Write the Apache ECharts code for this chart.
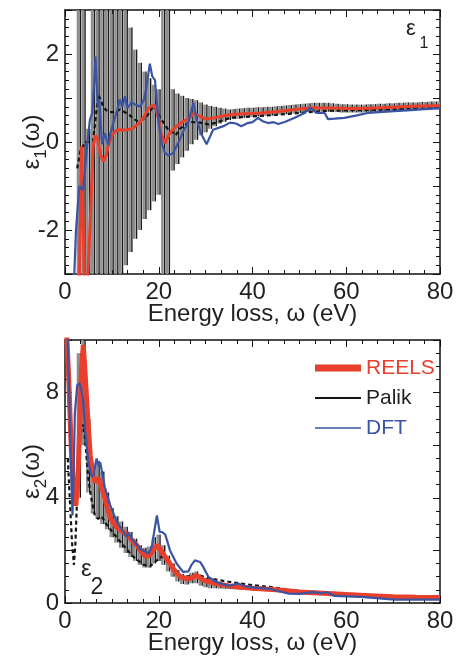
<!DOCTYPE html>
<html>
<head>
<meta charset="utf-8">
<script src="https://cdn.jsdelivr.net/npm/echarts@6/dist/echarts.min.js"></script>
<style>
  html, body { margin: 0; padding: 0; background: #fff; }
  #main { width: 458px; height: 656px; }
</style>
</head>
<body>
<div id="main"></div>
<script>
// energies of the REELS error bars (eV)
const barEnergy = [3, 4, 5, 6, 7, 8, 9, 10, 11, 12, 13, 14, 15, 16, 17, 18, 19, 20, 21, 22, 23, 24, 25, 26, 27, 28, 29, 30,
  31, 32, 33, 34, 35, 36, 37, 38, 39, 40, 41, 42, 43, 44, 45, 46, 47, 48, 49, 50, 51, 52, 53, 54, 55, 56, 57, 58, 59, 60,
  61, 62, 63, 64, 65, 66, 67, 68, 69, 70, 71, 72, 73, 74, 75, 76, 77, 78, 79, 80];

// eps1 error bar bounds
const eps1Low = [-3.5, -3.5, -3.5, -3.5, -3.5, -3.5, -3.5, -3.5, -3.5, -3.3, -2.8, -2.5, -2.2, -2.0, -1.75, -1.55, -1.35, -1.2,
  -3.5, -3.5, -0.65, -0.5, -0.35, -0.2, -0.05, 0.05, 0.15, 0.22, 0.3, 0.36, 0.42, 0.46, 0.5, 0.52, 0.53, 0.55, 0.56, 0.57,
  0.58, 0.58, 0.59, 0.6, 0.61, 0.62, 0.63, 0.64, 0.65, 0.66, 0.67, 0.68, 0.69, 0.69, 0.69, 0.69, 0.68, 0.68, 0.67, 0.67,
  0.67, 0.67, 0.67, 0.67, 0.68, 0.68, 0.69, 0.69, 0.7, 0.7, 0.71, 0.71, 0.72, 0.72, 0.73, 0.73, 0.74, 0.74, 0.75, 0.75];
const eps1High = [3.5, 3.5, 0.3, 3.5, 3.5, 3.5, 3.5, 3.5, 3.5, 3.5, 3.2, 2.6, 2.1, 1.8, 1.6, 1.45, 1.3, 1.2,
  3.5, 3.5, 1.2, 1.1, 1.05, 1.0, 0.98, 0.95, 0.9, 0.85, 0.82, 0.8, 0.78, 0.76, 0.74, 0.75, 0.76, 0.77, 0.78, 0.78,
  0.79, 0.79, 0.8, 0.8, 0.81, 0.82, 0.83, 0.84, 0.85, 0.86, 0.87, 0.88, 0.89, 0.89, 0.89, 0.89, 0.88, 0.87, 0.86, 0.86,
  0.85, 0.85, 0.85, 0.85, 0.86, 0.86, 0.87, 0.87, 0.88, 0.88, 0.89, 0.89, 0.9, 0.9, 0.9, 0.91, 0.91, 0.92, 0.92, 0.92];

// eps2 error bar bounds
const eps2Low = [4.0, 6.0, 4.2, 3.4, 3.2, 3.0, 2.8, 2.5, 2.3, 2.1, 1.9, 1.75, 1.6, 1.45, 1.35, 1.35, 1.5, 1.6, 1.45, 1.2,
  1.0, 0.82, 0.72, 0.7, 0.75, 0.75, 0.66, 0.6, 0.56, 0.56, 0.55, 0.54, 0.53, 0.52, 0.51, 0.5, 0.49, 0.48, 0.47, 0.46,
  0.45, 0.44, 0.42, 0.41, 0.4, 0.38, 0.36, 0.35, 0.34, 0.33, 0.32, 0.31, 0.3, 0.29, 0.28, 0.27, 0.26, 0.25, 0.24, 0.23,
  0.22, 0.22, 0.21, 0.2, 0.19, 0.18, 0.18, 0.17, 0.16, 0.16, 0.15, 0.15, 0.14, 0.14, 0.14, 0.14, 0.13, 0.13];
const eps2High = [9.5, 10.2, 7.0, 5.0, 5.4, 5.0, 4.2, 3.6, 3.3, 3.1, 2.9, 2.7, 2.45, 2.2, 2.1, 2.15, 2.5, 2.6, 2.2, 1.8,
  1.5, 1.25, 1.1, 1.05, 1.15, 1.2, 1.05, 0.95, 0.86, 0.84, 0.8, 0.76, 0.72, 0.68, 0.67, 0.66, 0.65, 0.64, 0.63, 0.62,
  0.6, 0.59, 0.58, 0.56, 0.55, 0.53, 0.51, 0.5, 0.49, 0.48, 0.47, 0.46, 0.45, 0.44, 0.43, 0.42, 0.41, 0.4, 0.39, 0.38,
  0.37, 0.36, 0.35, 0.34, 0.33, 0.32, 0.31, 0.3, 0.3, 0.29, 0.29, 0.28, 0.28, 0.28, 0.27, 0.27, 0.27, 0.27];

// curves, [energy, value]
const reelsEps1 = [[3.0, -3.5], [3.55, -0.1], [4.2, -3.5], [4.7, -3.5], [5.5, -1.5], [6.0, -0.1], [6.5, 0.15], [7.0, 0.05],
  [7.6, -0.3], [8.2, -0.44], [8.8, -0.3], [9.3, -0.05], [10.0, 0.15], [10.8, 0.25], [11.5, 0.28], [13, 0.27], [14.2, 0.3],
  [15, 0.36], [16, 0.44], [17, 0.6], [17.8, 0.76], [18.5, 0.82], [19.2, 0.83], [19.8, 0.6], [20.5, 0.2], [21.3, -0.03],
  [22.4, 0.21], [23.8, 0.36], [25, 0.45], [26.5, 0.55], [27.5, 0.65], [28.5, 0.6], [30, 0.52], [32, 0.55], [35, 0.62],
  [38, 0.64], [42, 0.66], [46, 0.7], [50, 0.75], [53, 0.78], [57, 0.77], [60, 0.76], [63, 0.76], [66, 0.77], [70, 0.79],
  [74, 0.81], [77, 0.82], [80, 0.83]];
const palikEps1 = [[2.6, -0.6], [3.3, -0.2], [4.3, 0.0], [5, 0.0], [6.0, 0.02], [6.5, 0.5], [7.1, 1.08], [7.6, 0.95],
  [8.2, 0.8], [8.8, 0.72], [9.6, 0.68], [10.3, 0.68], [11, 0.7], [11.7, 0.74], [12.4, 0.7], [13.2, 0.65], [13.9, 0.6],
  [14.7, 0.52], [15.6, 0.47], [16.4, 0.5], [17.4, 0.58], [18.3, 0.72], [18.8, 0.8], [19.5, 0.72], [20.2, 0.58], [21, 0.44],
  [22, 0.28], [23.1, 0.21], [23.6, 0.15], [24.5, 0.3], [25.5, 0.38], [26.5, 0.45], [27.5, 0.45], [28.8, 0.44], [30.6, 0.4],
  [32.3, 0.44], [35.2, 0.55], [40, 0.58], [45.5, 0.62], [50, 0.66], [56, 0.71], [60, 0.72], [65, 0.73], [70, 0.74],
  [75, 0.76], [80, 0.77]];
const dftEps1 = [[1.8, -3.5], [2.35, -2.0], [3.05, -1.0], [3.4, -1.0], [3.8, -1.1], [4.3, -0.6], [4.75, -0.05], [5.3, 0.5],
  [5.8, 0.66], [6.2, 1.3], [6.5, 1.94], [6.8, 1.2], [7.0, 0.81], [7.3, 0.97], [7.9, -0.05], [8.5, 0.2], [9.2, -0.07],
  [9.7, 0.2], [10.5, 0.5], [11.2, 0.75], [11.7, 0.97], [12.2, 0.8], [12.8, 1.04], [13.3, 0.77], [14.2, 0.9], [15, 0.85],
  [16, 0.8], [16.8, 0.95], [17.3, 1.2], [18.1, 1.78], [18.6, 1.5], [19.2, 1.4], [19.9, 0.51], [20.6, -0.02], [21.3, -0.25],
  [22.1, -0.3], [23.1, -0.25], [24.5, 0.06], [25.5, 0.3], [26.3, 0.44], [27.4, 0.89], [28.1, 0.5], [29, 0.2], [30.2, -0.05],
  [31.6, 0.28], [33.8, 0.36], [35.2, 0.44], [36.5, 0.42], [37.6, 0.36], [39, 0.43], [40, 0.45], [41.2, 0.55], [42.2, 0.47],
  [43.3, 0.43], [44.5, 0.45], [45.5, 0.41], [47, 0.46], [49, 0.55], [51.1, 0.66], [52.4, 0.78], [53.6, 0.66], [55.4, 0.66],
  [56.1, 0.52], [57.5, 0.53], [59.6, 0.55], [62, 0.6], [64.6, 0.66], [67, 0.68], [70.3, 0.7], [73, 0.72], [76, 0.74],
  [80, 0.77]];

const reelsEps2 = [[0.3, 10.5], [0.8, 8.5], [1.3, 6.0], [1.8, 4.4], [2.3, 3.7], [2.7, 4.5], [3.1, 6.5], [3.5, 8.8],
  [3.9, 9.8], [4.2, 9.0], [4.6, 7.8], [5.0, 6.6], [5.4, 5.6], [5.9, 4.95], [6.4, 4.6], [6.8, 4.68], [7.3, 4.74], [7.8, 4.4],
  [8.2, 4.2], [8.9, 3.7], [9.6, 3.27], [10.3, 3.05], [11, 2.89], [12, 2.75], [13.2, 2.6], [14.2, 2.4], [15.3, 2.2],
  [16.3, 1.95], [17.2, 1.78], [18, 1.8], [18.8, 2.0], [19.6, 2.2], [20.3, 2.05], [21, 1.85], [22.4, 1.5], [23.5, 1.2],
  [24.5, 1.02], [25.5, 0.94], [26.7, 0.93], [27.5, 1.0], [28.2, 1.04], [29.5, 0.87], [31.6, 0.77], [33.5, 0.7], [35, 0.65],
  [40, 0.56], [45, 0.5], [50, 0.42], [55, 0.37], [60, 0.32], [65, 0.28], [70, 0.24], [75, 0.22], [80, 0.21]];
const palikEps2 = [[0.6, 5.5], [1.0, 4.0], [1.5, 2.3], [1.9, 1.45], [2.2, 2.2], [2.5, 3.6], [2.85, 5.6], [3.3, 6.4],
  [3.9, 6.8], [4.3, 6.2], [4.7, 5.3], [5.0, 4.7], [5.4, 4.2], [5.7, 3.9], [6.4, 3.3], [7.1, 3.2], [7.8, 3.3], [8.8, 3.0],
  [10.3, 2.66], [12.4, 2.2], [14.5, 1.77], [16.7, 1.46], [18.1, 1.39], [19.6, 1.62], [20.7, 1.77], [22.4, 1.5], [23.5, 1.3],
  [24.5, 1.05], [25.5, 0.98], [27.4, 1.06], [28.8, 1.04], [30.9, 0.93], [35.2, 0.8], [40, 0.68], [45, 0.58], [50, 0.45],
  [55, 0.38], [60, 0.32], [65, 0.27], [70, 0.22], [75, 0.19], [80, 0.17]];
const dftEps2 = [[0.5, 10.5], [0.9, 8.0], [1.3, 5.0], [1.6, 3.33], [1.85, 5.0], [2.1, 7.2], [2.6, 8.28], [3.1, 8.35],
  [3.5, 8.1], [3.8, 7.8], [4.3, 6.55], [5.0, 5.3], [5.7, 4.8], [6.2, 4.9], [6.5, 5.3], [6.75, 5.49], [7.2, 5.2], [7.5, 5.35],
  [7.8, 5.3], [8.5, 4.4], [9.6, 3.74], [11, 3.1], [12.5, 2.7], [13.2, 2.5], [13.5, 2.7], [14.2, 2.45], [16, 2.07],
  [17.8, 1.88], [18.5, 2.13], [19.2, 2.89], [19.6, 3.33], [20.2, 2.7], [20.7, 2.7], [21.4, 2.6], [22.4, 2.0], [23.8, 1.5],
  [25.2, 1.18], [26.3, 1.2], [27.0, 1.45], [27.7, 1.62], [28.8, 1.56], [29.5, 1.37], [30.6, 0.99], [32.3, 0.8], [34.8, 0.65],
  [36.9, 0.74], [39, 0.61], [43.3, 0.55], [47.6, 0.36], [50, 0.35], [53.3, 0.42], [54.7, 0.36], [55.8, 0.42], [57.5, 0.27],
  [63.2, 0.23], [70.3, 0.13], [80, 0.13]];

const legendNames = ['REELS', 'Palik', 'DFT'];

const FONT = 'Liberation Sans, Arial, sans-serif';
const TEXT = '#231f20';
const RED = '#e8402c';
const BLUE = '#3b54a4';
const BLACK = '#141414';

const chart = echarts.init(document.getElementById('main'));

// grey + black stripe for one error bar, clipped to the grid
function errorBar(params, api) {
  const e = api.value(0);
  const top = api.coord([e, api.value(2)]);
  const bottom = api.coord([e, api.value(1)]);
  const step = api.size([1, 0])[0];
  const cs = params.coordSys;
  const area = { x: cs.x, y: cs.y, width: cs.width, height: cs.height };
  const h = bottom[1] - top[1];
  const grey = echarts.graphic.clipRectByRect({ x: top[0] - step * 0.5, y: top[1], width: step * 0.55, height: h }, area);
  const black = echarts.graphic.clipRectByRect({ x: top[0] + step * 0.12, y: top[1], width: step * 0.3, height: h }, area);
  const children = [];
  if (grey) children.push({ type: 'rect', shape: grey, style: { fill: '#8e8e8e' } });
  if (black) children.push({ type: 'rect', shape: black, style: { fill: '#1a1a1a' } });
  return { type: 'group', children: children };
}

function xAxes(gridIndex) {
  const base = {
    gridIndex: gridIndex, type: 'value', min: 0, max: 80, interval: 20,
    axisLine: { onZero: false, lineStyle: { color: '#111', width: 1.5 } },
    axisTick: { inside: true, length: 7, lineStyle: { color: '#111', width: 1 } },
    minorTick: { show: true, splitNumber: 6, length: 4, lineStyle: { color: '#111' } },
    splitLine: { show: false }
  };
  return [
    Object.assign({}, base, {
      position: 'bottom',
      name: 'Energy loss, ω (eV)', nameLocation: 'middle', nameGap: 28, nameMoveOverlap: false,
      nameTextStyle: { fontFamily: FONT, fontSize: 24, color: TEXT },
      axisLabel: { margin: 6, fontFamily: FONT, fontSize: 24, color: TEXT }
    }),
    Object.assign({}, base, { position: 'top', axisLabel: { show: false } })
  ];
}

function yAxes(gridIndex, min, max, interval, minorSplit, labelEvery, sub) {
  const base = {
    gridIndex: gridIndex, type: 'value', min: min, max: max, interval: interval,
    axisLine: { onZero: false, lineStyle: { color: '#111', width: 1.5 } },
    axisTick: { inside: true, length: 7, lineStyle: { color: '#111', width: 1 } },
    minorTick: { show: true, splitNumber: minorSplit, length: 4, lineStyle: { color: '#111' } },
    splitLine: { show: false }
  };
  return [
    Object.assign({}, base, {
      position: 'left',
      name: '{e|ε}{s|' + sub + '}{e|(ω)}', nameLocation: 'middle', nameGap: 21, nameMoveOverlap: false,
      nameTextStyle: {
        rich: {
          e: { fontFamily: FONT, fontSize: 24, lineHeight: 24, color: TEXT },
          s: { fontFamily: FONT, fontSize: 17, lineHeight: 24, color: TEXT, padding: [18, 0, 0, 0] }
        }
      },
      axisLabel: {
        margin: 6, fontFamily: FONT, fontSize: 24, color: TEXT,
        formatter: function (v) { return (Math.round(v) % labelEvery === 0) ? String(v) : ''; }
      }
    }),
    Object.assign({}, base, { position: 'right', axisLabel: { show: false } })
  ];
}

// legend icons: a bar of given thickness inside a 46x14 box
function lineIcon(thick) {
  const y0 = 7 - thick / 2, y1 = 7 + thick / 2;
  return 'path://M0,0L0.01,0M0,14L0.01,14M0,' + y0 + 'H46V' + y1 + 'H0Z';
}

const bars1 = barEnergy.map(function (e, i) { return [e, eps1Low[i], eps1High[i]]; });
const bars2 = barEnergy.map(function (e, i) { return [e, eps2Low[i], eps2High[i]]; });

chart.setOption({
  animation: false,
  backgroundColor: '#fff',
  grid: [
    { left: 65, top: 10, width: 375, height: 264, outerBoundsMode: 'none', containLabel: false },
    { left: 65, top: 340, width: 375, height: 263, outerBoundsMode: 'none', containLabel: false }
  ],
  xAxis: xAxes(0).concat(xAxes(1)),
  yAxis: yAxes(0, -3, 3, 1, 5, 2, '1').concat(yAxes(1, 0, 10, 2, 4, 4, '2')),
  legend: {
    orient: 'vertical', left: 310, top: 351, itemWidth: 46, itemHeight: 14, itemGap: 6,
    textStyle: { fontFamily: FONT, fontSize: 21, lineHeight: 24 },
    data: [
      { name: legendNames[0], icon: lineIcon(7), textStyle: { color: RED } },
      { name: legendNames[1], icon: lineIcon(2), textStyle: { color: TEXT } },
      { name: legendNames[2], icon: lineIcon(1.5), textStyle: { color: BLUE } }
    ]
  },
  graphic: [
    { type: 'text', x: 406, y: 29, style: { text: 'ε', font: '22px ' + FONT, fill: TEXT, align: 'left', verticalAlign: 'middle' } },
    { type: 'text', x: 424, y: 44, style: { text: '1', font: '16px ' + FONT, fill: TEXT, align: 'center', verticalAlign: 'middle' } },
    { type: 'text', x: 81, y: 569, style: { text: 'ε', font: '24px ' + FONT, fill: TEXT, align: 'left', verticalAlign: 'middle' } },
    { type: 'text', x: 97, y: 588, style: { text: '2', font: '23px ' + FONT, fill: TEXT, align: 'center', verticalAlign: 'middle' } }
  ],
  series: [
    // lower panel, eps2
    { name: 'bars2', type: 'custom', xAxisIndex: 2, yAxisIndex: 2, renderItem: errorBar, data: bars2, encode: { x: 0, y: [1, 2] }, z: 1 },
    { name: legendNames[1], type: 'line', xAxisIndex: 2, yAxisIndex: 2, data: palikEps2, showSymbol: false, symbol: 'none',
      lineStyle: { color: BLACK, width: 2.2, type: [4, 3] }, itemStyle: { color: BLACK }, z: 3 },
    { name: legendNames[0], type: 'line', xAxisIndex: 2, yAxisIndex: 2, data: reelsEps2, showSymbol: false, symbol: 'none',
      lineStyle: { color: RED, width: 5 }, itemStyle: { color: RED }, z: 4 },
    { name: legendNames[2], type: 'line', xAxisIndex: 2, yAxisIndex: 2, data: dftEps2, showSymbol: false, symbol: 'none',
      lineStyle: { color: BLUE, width: 2.2 }, itemStyle: { color: BLUE }, z: 5 },
    // upper panel, eps1
    { name: 'bars1', type: 'custom', xAxisIndex: 0, yAxisIndex: 0, renderItem: errorBar, data: bars1, encode: { x: 0, y: [1, 2] }, z: 1 },
    { name: legendNames[1], type: 'line', xAxisIndex: 0, yAxisIndex: 0, data: palikEps1, showSymbol: false, symbol: 'none',
      lineStyle: { color: BLACK, width: 2.2, type: [4, 3] }, itemStyle: { color: BLACK }, z: 3 },
    { name: legendNames[0], type: 'line', xAxisIndex: 0, yAxisIndex: 0, data: reelsEps1, showSymbol: false, symbol: 'none',
      lineStyle: { color: RED, width: 3 }, itemStyle: { color: RED }, z: 4 },
    { name: legendNames[2], type: 'line', xAxisIndex: 0, yAxisIndex: 0, data: dftEps1, showSymbol: false, symbol: 'none',
      lineStyle: { color: BLUE, width: 2.2 }, itemStyle: { color: BLUE }, z: 5 }
  ]
});
</script>
</body>
</html>
